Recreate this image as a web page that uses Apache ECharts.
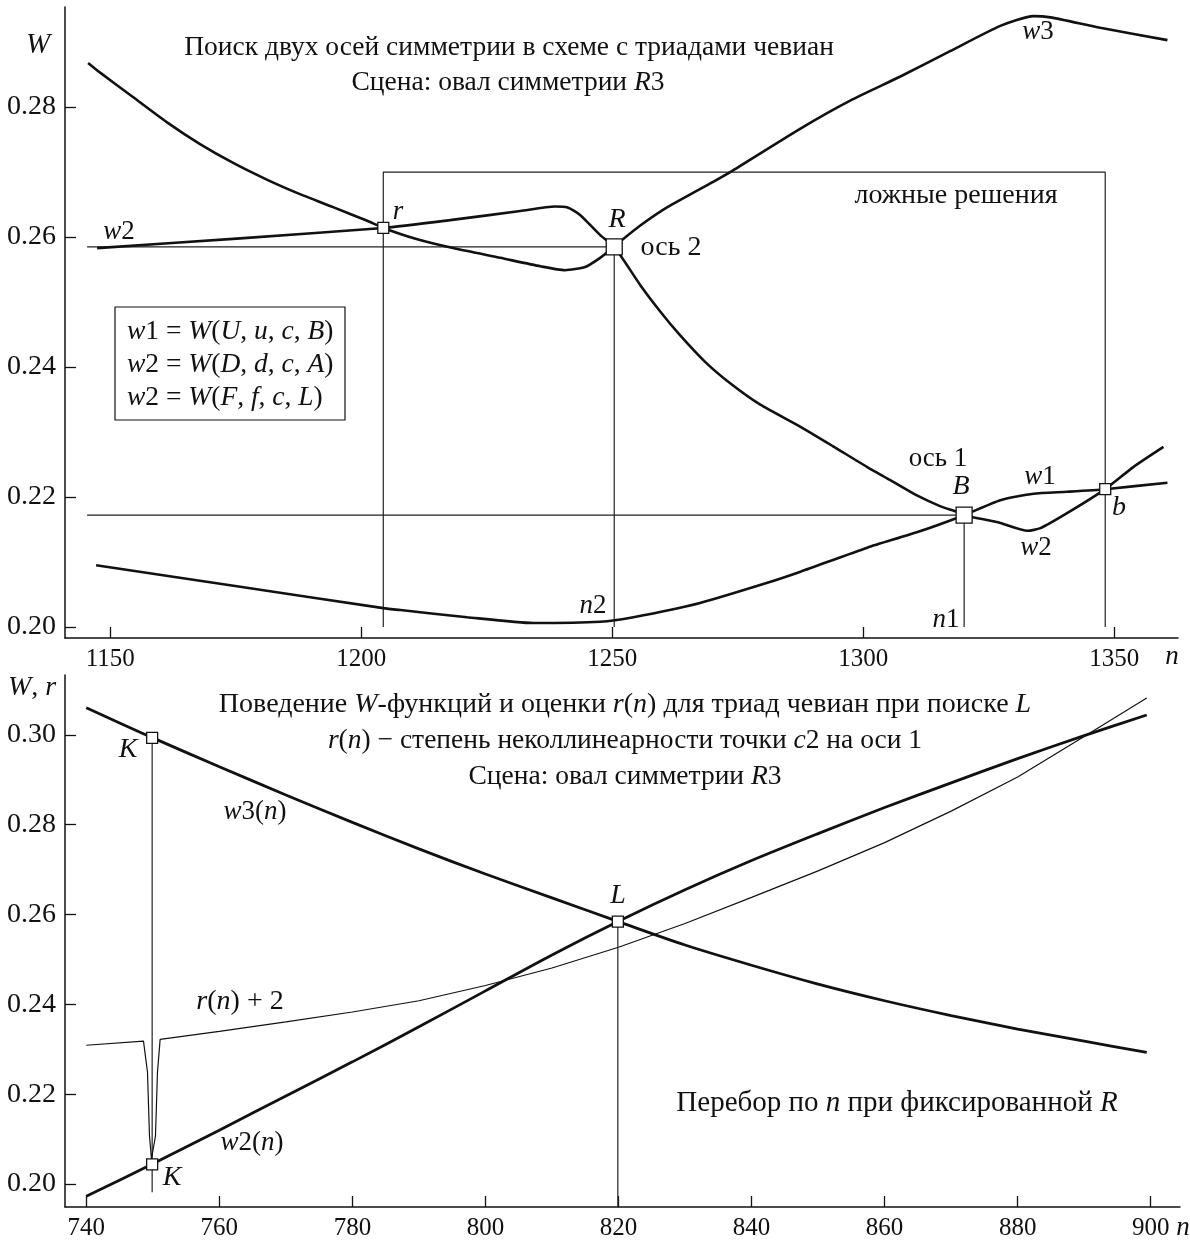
<!DOCTYPE html>
<html><head><meta charset="utf-8">
<script src="https://cdn.jsdelivr.net/npm/echarts@6/dist/echarts.min.js"></script>
<style>html,body{margin:0;padding:0;background:#fff}#c{width:1190px;height:1241px}</style>
</head><body><div id="c"></div>
<script>
// ---------- tick labels ----------
const topXTicks = [1150, 1200, 1250, 1300, 1350];
const topYTicks = [0.20, 0.22, 0.24, 0.26, 0.28];
const botXTicks = [740, 760, 780, 800, 820, 840, 860, 880, 900];
const botYTicks = [0.20, 0.22, 0.24, 0.26, 0.28, 0.30];

// ---------- top panel curves [n, W] ----------
const topCurveW3 = [[1145.6,0.2868],[1148.0,0.2853],[1154.6,0.2815],[1161.4,0.2776],[1167.9,0.2743],[1174.5,0.2714],[1181.3,0.2688],[1187.8,0.2666],[1194.4,0.2646],[1201.2,0.2625],[1204.4,0.2614],[1211.0,0.2597],[1218.3,0.2583],[1227.7,0.2568],[1235.7,0.2555],[1240.6,0.2549],[1244.6,0.2554],[1247.6,0.2568],[1250.4,0.2585],[1252.2,0.2597],[1256.0,0.2620],[1261.0,0.2646],[1270.1,0.2685],[1273.5,0.2700],[1287.5,0.2767],[1297.4,0.2810],[1307.4,0.2847],[1317.3,0.2886],[1327.3,0.2925],[1333.9,0.2940],[1337.3,0.2938],[1347.2,0.2922],[1360.6,0.2903]];
const topCurveW2 = [[1147.4,0.2583],[1175.9,0.2598],[1204.4,0.2614],[1217.7,0.2626],[1231.7,0.2640],[1238.6,0.2647],[1241.0,0.2646],[1243.6,0.2634],[1247.6,0.2603],[1250.4,0.2585],[1255.6,0.2526],[1259.6,0.2485],[1263.5,0.2449],[1268.5,0.2408],[1273.5,0.2375],[1279.5,0.2342],[1287.5,0.2308],[1294.0,0.2278],[1300.8,0.2246],[1305.4,0.2226],[1310.8,0.2202],[1315.3,0.2186],[1318.7,0.2177],[1320.1,0.2172],[1327.3,0.2160],[1332.7,0.2148],[1335.3,0.2152],[1340.6,0.2175],[1348.2,0.2212],[1353.8,0.2246],[1359.8,0.2277]];
const topCurveW1 = [[1147.2,0.2095],[1175.9,0.2062],[1204.4,0.2029],[1207.8,0.2026],[1221.1,0.2015],[1234.3,0.2006],[1247.6,0.2008],[1254.2,0.2015],[1267.5,0.2037],[1280.9,0.2068],[1287.5,0.2085],[1300.8,0.2122],[1310.8,0.2146],[1320.1,0.2172],[1327.3,0.2195],[1333.9,0.2205],[1340.6,0.2208],[1348.2,0.2212],[1360.6,0.2222]];
// guide lines (top)
const topGuideBox = [[1204.4,0.2000],[1204.4,0.2700],[1348.2,0.2700],[1348.2,0.2000]];
const topGuideR = [[1145.4,0.2585],[1250.4,0.2585],[1250.4,0.2000]];
const topGuideB = [[1145.4,0.2172],[1320.1,0.2172],[1320.1,0.2000]];
// special points (top): r, R, B, b
const topPoints = [[1204.4,0.2614],[1250.4,0.2585],[1320.1,0.2172],[1348.2,0.2212]];
const topPointSizes = [11, 16, 16, 11];

// ---------- bottom panel curves [n, W] ----------
const botW3 = [[740,0.3060],[750,0.2993],[760,0.2929],[770,0.2866],[780,0.2805],[790,0.2746],[800,0.2690],[810,0.2637],[820,0.2584],[830,0.2532],[840,0.2487],[850,0.2445],[860,0.2408],[870,0.2375],[880,0.2345],[890,0.2318],[899.4,0.2293]];
const botW2 = [[740,0.1973],[750,0.2045],[760,0.2120],[770,0.2196],[780,0.2272],[790,0.2350],[800,0.2430],[810,0.2510],[820,0.2585],[830,0.2655],[840,0.2720],[850,0.2780],[860,0.2838],[870,0.2893],[880,0.2947],[890,0.2998],[899.4,0.3044]];
const botR2 = [[740,0.2309],[748.6,0.2318],[749.2,0.2249],[749.5,0.2107],[749.8,0.2056],[750.1,0.2056],[750.4,0.2107],[750.7,0.2249],[751.1,0.2322],[760,0.2340],[770,0.2361],[780,0.2383],[790,0.2408],[800,0.2442],[810,0.2481],[820,0.2527],[830,0.2580],[840,0.2638],[850,0.2697],[860,0.2760],[870,0.2830],[880,0.2906],[890,0.2996],[899.4,0.3082]];
const botGuideK = [[749.9,0.2993],[749.9,0.1982]];
const botGuideL = [[819.9,0.2584],[819.9,0.1949]];
const botPoints = [[749.9,0.2993],[749.9,0.2044],[819.9,0.2584]];

// ---------- chart ----------
const F = '"Liberation Serif","Times New Roman",serif';
const INK = '#111';
function mkRich(fs) {
  return {
    n: {fontFamily: F, fontSize: fs, fill: INK},
    i: {fontFamily: F, fontSize: fs, fill: INK, fontStyle: 'italic'}
  };
}
const I = s => '{i|' + s + '}';
const N = s => '{n|' + s + '}';
function txt(x, y, s, fs, align) {
  fs = fs || 27;
  return {type: 'text', x: x, y: y, z: 100,
    style: {text: s, rich: mkRich(fs), align: align || 'center', verticalAlign: 'middle',
      fontFamily: F, fontSize: fs, fill: INK}};
}

function xAxisCfg(gi, min, max, ticks) {
  return {type: 'value', gridIndex: gi, min: min, max: max, position: 'bottom',
    axisLine: {show: true, onZero: false, lineStyle: {color: INK, width: 1.5}},
    axisTick: {show: true, inside: true, length: 11, customValues: ticks, lineStyle: {color: INK, width: 1.3}},
    axisLabel: {show: true, customValues: ticks, margin: 9, color: INK, fontFamily: F, fontSize: 25,
      formatter: v => String(Math.round(v))},
    splitLine: {show: false}};
}
function yAxisCfg(gi, min, max, ticks) {
  return {type: 'value', gridIndex: gi, min: min, max: max, position: 'left',
    axisLine: {show: true, onZero: false, lineStyle: {color: INK, width: 1.5}},
    axisTick: {show: true, inside: true, length: 11, customValues: ticks, lineStyle: {color: INK, width: 1.3}},
    axisLabel: {show: true, customValues: ticks, margin: 9, color: INK, fontFamily: F, fontSize: 28,
      formatter: v => v.toFixed(2)},
    splitLine: {show: false}};
}
function curve(gi, data, w, smooth) {
  return {type: 'line', xAxisIndex: gi, yAxisIndex: gi, data: data, showSymbol: false, symbol: 'none',
    smooth: smooth, lineStyle: {color: INK, width: w}, silent: true, z: 3};
}
function guide(gi, data) {
  return {type: 'line', xAxisIndex: gi, yAxisIndex: gi, data: data, showSymbol: false, symbol: 'none',
    smooth: false, lineStyle: {color: '#222', width: 1.2}, silent: true, z: 2};
}
function marks(gi, data, sizes) {
  return {type: 'scatter', xAxisIndex: gi, yAxisIndex: gi, z: 10,
    data: data.map((d, k) => ({value: d, symbolSize: sizes ? sizes[k] : 11})),
    symbol: 'rect', itemStyle: {color: '#fff', borderColor: INK, borderWidth: 1.3, opacity: 1}};
}

const chart = echarts.init(document.getElementById('c'), null, {renderer: 'canvas'});
chart.setOption({
  animation: false,
  backgroundColor: '#fff',
  grid: [
    {left: 65, top: 7, width: 1113, height: 631, containLabel: false},
    {left: 65, top: 675, width: 1115, height: 533, containLabel: false}
  ],
  xAxis: [xAxisCfg(0, 1141, 1362.7, topXTicks), xAxisCfg(1, 736.8, 904.4, botXTicks)],
  yAxis: [yAxisCfg(0, 0.1983, 0.2954, topYTicks), yAxisCfg(1, 0.1949, 0.3133, botYTicks)],
  series: [
    guide(0, topGuideBox), guide(0, topGuideR), guide(0, topGuideB),
    curve(0, topCurveW3, 2.6, 0.2), curve(0, topCurveW2, 2.6, 0.2), curve(0, topCurveW1, 2.6, 0.2),
    marks(0, topPoints, topPointSizes),
    guide(1, botGuideK), guide(1, botGuideL),
    curve(1, botW3, 2.8, 0.3), curve(1, botW2, 2.8, 0.3), curve(1, botR2, 1.2, false),
    marks(1, botPoints)
  ],
  graphic: [
    // top panel
    txt(38, 45, I('W'), 29),
    txt(509, 48, N('Поиск двух осей симметрии в схеме с триадами чевиан'), 27.5),
    txt(508, 83, N('Сцена: овал симметрии ') + I('R') + N('3'), 27.5),
    txt(1038, 32, I('w') + N('3')),
    txt(398, 212, I('r')),
    txt(617, 220, I('R'), 28),
    txt(671, 248, N('ось 2'), 28),
    txt(119, 232, I('w') + N('2')),
    txt(956, 196, N('ложные решения'), 28),
    {type: 'rect', shape: {x: 115, y: 307, width: 230, height: 113}, z: 90,
      style: {fill: '#fff', stroke: INK, lineWidth: 1.2}},
    txt(127, 332, I('w') + N('1 = ') + I('W') + N('(') + I('U') + N(', ') + I('u') + N(', ') + I('c') + N(', ') + I('B') + N(')'), 27.5, 'left'),
    txt(127, 365, I('w') + N('2 = ') + I('W') + N('(') + I('D') + N(', ') + I('d') + N(', ') + I('c') + N(', ') + I('A') + N(')'), 27.5, 'left'),
    txt(127, 398, I('w') + N('2 = ') + I('W') + N('(') + I('F') + N(', ') + I('f') + N(', ') + I('c') + N(', ') + I('L') + N(')'), 27.5, 'left'),
    txt(938, 459, N('ось 1'), 27),
    txt(961, 487, I('B'), 28),
    txt(1040, 477, I('w') + N('1')),
    txt(1119, 508, I('b'), 28),
    txt(1036, 548, I('w') + N('2')),
    txt(946, 620, I('n') + N('1')),
    txt(593, 606, I('n') + N('2')),
    txt(1172, 657, I('n')),
    // bottom panel
    txt(32, 688, I('W') + N(', ') + I('r'), 28),
    txt(625, 705, N('Поведение ') + I('W') + N('-функций и оценки ') + I('r') + N('(') + I('n') + N(') для триад чевиан при поиске ') + I('L'), 28),
    txt(625, 741, I('r') + N('(') + I('n') + N(') − степень неколлинеарности точки ') + I('c') + N('2 на оси 1'), 27.5),
    txt(625, 777, N('Сцена: овал симметрии ') + I('R') + N('3'), 27.5),
    txt(128, 750, I('K'), 28),
    txt(255, 812, I('w') + N('3(') + I('n') + N(')')),
    txt(618, 896, I('L'), 28),
    txt(240, 1002, I('r') + N('(') + I('n') + N(') + 2'), 28),
    txt(252, 1143, I('w') + N('2(') + I('n') + N(')')),
    txt(172, 1178, I('K'), 28),
    txt(897, 1103, N('Перебор по ') + I('n') + N(' при фиксированной ') + I('R'), 29),
    txt(1183, 1228, I('n'))
  ]
});
</script>
</body></html>
